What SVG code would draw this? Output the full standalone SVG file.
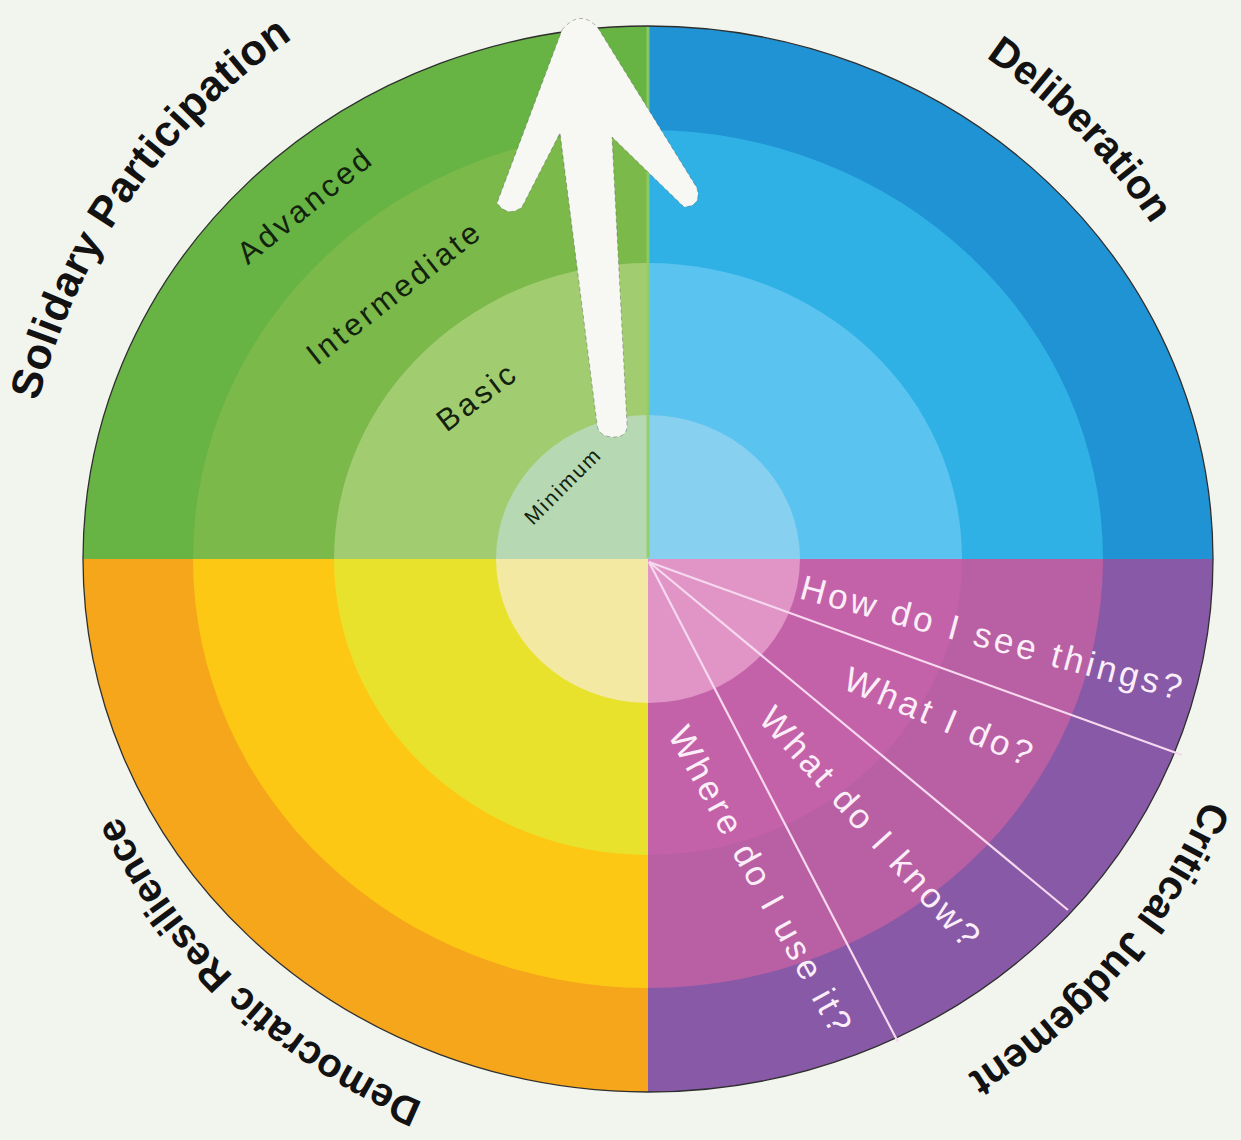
<svg xmlns="http://www.w3.org/2000/svg" width="1241" height="1140" viewBox="0 0 1241 1140">
<style>
.lbl{font-family:"Liberation Sans",Arial,sans-serif;font-weight:bold;fill:#121212}
.lvl{font-family:"Liberation Sans",Arial,sans-serif;font-size:31px;letter-spacing:3.4px;fill:#13220d;text-anchor:middle}
.q{font-family:"Liberation Sans",Arial,sans-serif;font-size:35px;letter-spacing:3.5px;fill:#fbeef8;text-anchor:middle}
.sep{stroke:#f7d9ef;stroke-width:2.2;fill:none}
</style>
<defs>
<path id="pSol" d="M38.1,401.3 A630,630 0 0 1 560.3,-64.9"/>
<path id="pDel" d="M985.6,57.5 A605,605 0 0 1 1243.8,664"/>
<path id="pCrit" d="M1205,799.5 A607,607 0 0 1 542.6,1156.8"/>
<path id="pDem" d="M423,1102.2 A588,588 0 0 1 95.5,357.9"/>
</defs>
<rect width="1241" height="1140" fill="#f2f5ee"/>

<g id="wheel">
<g id="advanced">
<path d="M648,559 L83,559 A565,533 0 0 1 648,26 Z" fill="#67b445"/>
<path d="M648,559 L648,26 A565,533 0 0 1 1213,559 Z" fill="#1f93d3"/>
<path d="M648,559 L1213,559 A565,533 0 0 1 648,1092 Z" fill="#8759a7"/>
<path d="M648,559 L648,1092 A565,533 0 0 1 83,559 Z" fill="#f6a61a"/>
</g>
<g id="intermediate">
<path d="M648,559 L193,559 A455,429 0 0 1 648,130 Z" fill="#7ab94a"/>
<path d="M648,559 L648,130 A455,429 0 0 1 1103,559 Z" fill="#2fb1e5"/>
<path d="M648,559 L1103,559 A455,429 0 0 1 648,988 Z" fill="#b95fa4"/>
<path d="M648,559 L648,988 A455,429 0 0 1 193,559 Z" fill="#fcc814"/>
</g>
<g id="basic">
<path d="M648,559 L334,559 A314,296 0 0 1 648,263 Z" fill="#a2cc70"/>
<path d="M648,559 L648,263 A314,296 0 0 1 962,559 Z" fill="#5ac3ef"/>
<path d="M648,559 L962,559 A314,296 0 0 1 648,855 Z" fill="#c462a9"/>
<path d="M648,559 L648,855 A314,296 0 0 1 334,559 Z" fill="#e9e22c"/>
</g>
<g id="minimum">
<path d="M648,559 L496,559 A152,144 0 0 1 648,415 Z" fill="#b6d9b3"/>
<path d="M648,559 L648,415 A152,144 0 0 1 800,559 Z" fill="#88d0f0"/>
<path d="M648,559 L800,559 A152,144 0 0 1 648,703 Z" fill="#e095c6"/>
<path d="M648,559 L648,703 A152,144 0 0 1 496,559 Z" fill="#f3e9a2"/>
</g>
<line x1="648" y1="27" x2="648" y2="558" stroke="#93d05c" stroke-width="3" opacity="0.85"/>
<ellipse cx="648" cy="559" rx="565" ry="533" fill="none" stroke="#2e2e2e" stroke-width="1.3"/>
</g>

<g id="connectors">
<line class="sep" x1="649" y1="562" x2="1182" y2="755"/>
<line class="sep" x1="649" y1="562" x2="1068" y2="910"/>
<line class="sep" x1="649" y1="562" x2="898" y2="1042"/>
</g>

<g id="arrow">
<path d="M562,30 Q580,8 598,28 L697,188 Q702,206 684,207 L612,137 L627,424 Q628,438 612,437 Q598,436 597,424 L560,133 L522,207 Q508,218 497,203 Z" fill="#f7f8f4" stroke="#4a4a4a" stroke-width="1" stroke-dasharray="4 3" stroke-opacity="0.4"/>
</g>

<g id="level-labels">
<text class="lvl" transform="translate(305,205) rotate(-39)" y="11">Advanced</text>
<text class="lvl" transform="translate(394,292) rotate(-38)" y="11">Intermediate</text>
<text class="lvl" transform="translate(477,396) rotate(-37)" y="11">Basic</text>
<text class="lvl" transform="translate(563,486) rotate(-45)" y="7" style="font-size:21px;letter-spacing:2px">Minimum</text>
</g>

<g id="question-labels">
<text class="q" transform="translate(993,638) rotate(15)" y="12">How do I see things?</text>
<text class="q" transform="translate(940,717) rotate(23)" y="12">What I do?</text>
<text class="q" transform="translate(871,828) rotate(48)" y="12">What do I know?</text>
<text class="q" transform="translate(761,881) rotate(61.3)" y="12">Where do I use it?</text>
</g>

<g id="dimension-labels">
<text class="lbl" style="font-size:43px;letter-spacing:0.5px"><textPath href="#pSol">Solidary Participation</textPath></text>
<text class="lbl" style="font-size:41px"><textPath href="#pDel">Deliberation</textPath></text>
<text class="lbl" style="font-size:41px"><textPath href="#pCrit">Critical Judgement</textPath></text>
<text class="lbl" style="font-size:40px"><textPath href="#pDem">Democratic Resilience</textPath></text>
</g>
</svg>
